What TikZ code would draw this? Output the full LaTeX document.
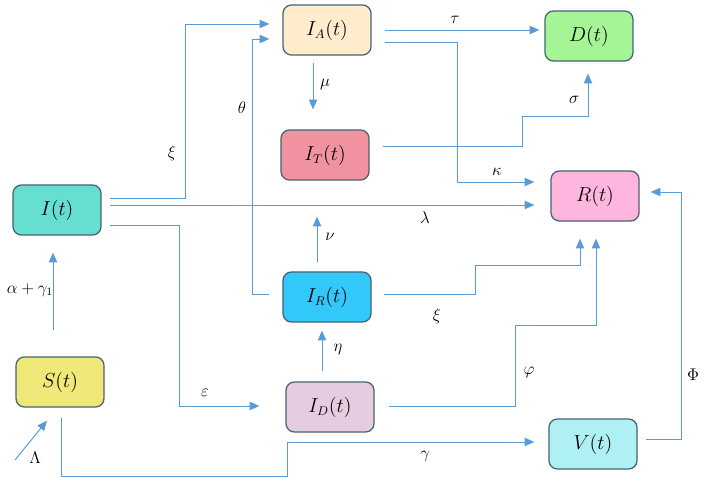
\documentclass[tikz,border=0pt]{standalone}
\usepackage{tikz}
\usetikzlibrary{calc,arrows.meta,positioning}
\definecolor{myblue}{RGB}{91,155,213}
\definecolor{myedge}{RGB}{70,100,115}
\definecolor{mypeach}{RGB}{255,236,204}
\definecolor{myrose}{RGB}{240,146,160}
\definecolor{mygreen}{RGB}{165,245,150}
\definecolor{mypink}{RGB}{255,182,222}
\definecolor{myteal}{RGB}{102,222,208}
\definecolor{mysky}{RGB}{51,200,250}
\definecolor{myyellow}{RGB}{240,232,120}
\definecolor{mylilac}{RGB}{230,204,224}
\definecolor{myaqua}{RGB}{175,240,245}

\begin{document}
\begin{tikzpicture}[
  x=0.025cm,
  y=-0.025cm,
  font=\large,
  mybox/.style={
    draw=myedge,
    line width=0.9pt,
    rounded corners=6pt,
    minimum width=2.2cm,
    minimum height=1.25cm,
    font=\fontsize{13.5}{16}\selectfont,
    fill=#1
    },
  myflow/.style={
    draw=myblue,
    line width=0.7pt,
    -{Triangle[length=7pt,width=6pt]}
  },
  mylabel/.style={
    inner sep=1pt
  }
]
\useasboundingbox (0,0) rectangle (705,478);

% compartments
\node[mybox=mypeach]  (ia) at (327,30)  {$I_A(t)$};
\node[mybox=myrose]   (it) at (325,155) {$I_T(t)$};
\node[mybox=mygreen]  (d)  at (589,36)  {$D(t)$};
\node[mybox=mypink]   (r)  at (595,196) {$R(t)$};
\node[mybox=myteal]   (i)  at (57,210)  {$I(t)$};
\node[mybox=mysky]    (ir) at (327,297) {$I_R(t)$};
\node[mybox=myyellow] (s)  at (60,382)  {$S(t)$};
\node[mybox=mylilac]  (id) at (330,407) {$I_D(t)$};
\node[mybox=myaqua]   (v)  at (593,444) {$V(t)$};

\coordinate (lamstart) at (15,460);

% flows
\draw[myflow] ($(i.east)+(8,-12)$) -| ($(ia.west)+(-97,-6)$) -- ($(ia.west)+(-13,-6)$);
\draw[myflow] ($(ir.west)+(-13,-3)$) -| ($(ia.west)+(-30,9)$) -- ($(ia.west)+(-13,9)$);
\draw[myflow] ($(ia.south)+(-14,7)$) -- ($(it.north)+(-12,-20)$);
\draw[myflow] ($(ia.east)+(13,0)$) -- ($(d.west)+(-5,-6)$);
\draw[myflow] ($(ia.east)+(13,12)$) -| ($(r.west)+(-93,-14)$) -- ($(r.west)+(-16,-14)$);
\draw[myflow] ($(it.east)+(13,-9)$) -| ($(d.south)+(-67,55)$) -| ($(d.south)+(-1,12)$);
\draw[myflow] ($(i.east)+(8,-5)$) -- ($(r.west)+(-16,9)$);
\draw[myflow] ($(i.east)+(8,15)$) -| ($(id.west)+(-106,-1)$) -- ($(id.west)+(-26,-1)$);
\draw[myflow] ($(s.north)+(-7,-26)$) -- ($(i.south)+(-4,17)$);
\draw[myflow] ($(ir.north)+(-10,-9)$) -- ($(it.south)+(-8,36)$);
\draw[myflow] ($(id.north)+(-8,-10)$) -- ($(ir.south)+(-5,8)$);
\draw[myflow] ($(ir.east)+(12,-3)$) -| ($(r.south)+(-120,44)$) -| ($(r.south)+(-15,17)$);
\draw[myflow] ($(id.east)+(14,-1)$) -| ($(r.south)+(-80,104)$) -| ($(r.south)+(1,17)$);
\draw[myflow] (lamstart) -- ($(s.south)+(-13,13)$);
\draw[myflow] ($(s.south)+(1,10)$) |- ($(v.west)+(-261,32)$) |- ($(v.west)+(-14,-2)$);
\draw[myflow] ($(v.east)+(8,-5)$) -| ($(r.east)+(42,-4)$) -- ($(r.east)+(11,-4)$);

% rates
\node[mylabel] (lxia)   at (172,153) {$\xi$};
\node[mylabel] (ltheta) at (242,108) {$\theta$};
\node[mylabel] (lmu)    at (325,85)  {$\mu$};
\node[mylabel] (ltau)   at (455,20)  {$\tau$};
\node[mylabel] (lkappa) at (497,172) {$\kappa$};
\node[mylabel] (lsigma) at (574,100) {$\sigma$};
\node[mylabel] (llam)   at (425,218) {$\lambda$};
\node[mylabel] (leps)   at (205,393) {$\varepsilon$};
\node[mylabel] (lalpha) at (30,290)  {$\alpha+\gamma_1$};
\node[mylabel] (lnu)    at (330,237) {$\nu$};
\node[mylabel] (leta)   at (338,350) {$\eta$};
\node[mylabel] (lxib)   at (437,316) {$\xi$};
\node[mylabel] (lphi)   at (529,373) {$\varphi$};
\node[mylabel] (lLam)   at (35,458)  {$\Lambda$};
\node[mylabel] (lgam)   at (425,457) {$\gamma$};
\node[mylabel] (lPhi)   at (693,375) {$\Phi$};

\end{tikzpicture}
\end{document}
